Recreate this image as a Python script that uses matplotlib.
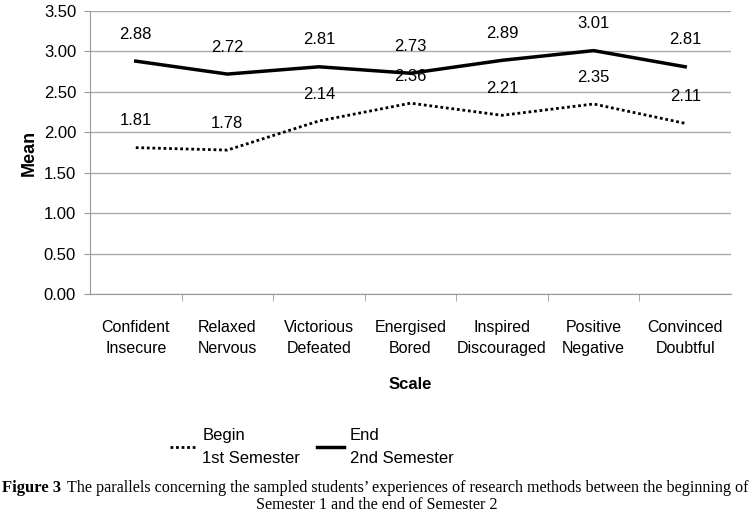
import matplotlib.pyplot as plt
from matplotlib.lines import Line2D

categories = ['Confident\nInsecure', 'Relaxed\nNervous', 'Victorious\nDefeated',
              'Energised\nBored', 'Inspired\nDiscouraged', 'Positive\nNegative',
              'Convinced\nDoubtful']
begin_vals = [1.81, 1.78, 2.14, 2.36, 2.21, 2.35, 2.11]
end_vals = [2.88, 2.72, 2.81, 2.73, 2.89, 3.01, 2.81]
y_ticks = [0.0, 0.5, 1.0, 1.5, 2.0, 2.5, 3.0, 3.5]

sans = ['Liberation Sans', 'DejaVu Sans']
serif = ['Liberation Serif', 'DejaVu Serif']

fig = plt.figure(figsize=(7.53, 5.23), dpi=100)
ax = fig.add_axes([90 / 753, 1 - 294 / 523, 641 / 753, 283 / 523])

x = list(range(len(categories)))
ax.plot(x, begin_vals, color='black', linestyle=(0, (1, 1)), linewidth=2)
ax.plot(x, end_vals, color='black', linestyle='-', linewidth=2.5)

for xi, v in zip(x, begin_vals):
    ax.annotate(f'{v:.2f}', (xi, v), xytext=(0, 14), textcoords='offset points',
                ha='center', va='bottom', fontsize=12, family=sans)
for xi, v in zip(x, end_vals):
    ax.annotate(f'{v:.2f}', (xi, v), xytext=(0, 14), textcoords='offset points',
                ha='center', va='bottom', fontsize=12, family=sans)

ax.set_xlim(-0.5, len(categories) - 0.5)
ax.set_ylim(0, 3.5)
ax.set_yticks(y_ticks)
ax.set_yticklabels([f'{t:.2f}' for t in y_ticks], family=sans, fontsize=12)
ax.set_xticks(x)
ax.set_xticklabels(categories, family=sans, fontsize=11.5, linespacing=1.5)
ax.set_xticks([i - 0.5 for i in range(1, len(categories))], minor=True)
ax.tick_params(axis='x', which='major', length=0, pad=19)
ax.tick_params(axis='x', which='minor', length=5, color='#999999')
ax.tick_params(axis='y', length=4, color='#999999', pad=6)
ax.grid(axis='y', color='#aaaaaa', linewidth=1)
ax.set_axisbelow(True)
for s in ['top', 'right']:
    ax.spines[s].set_visible(False)
for s in ['left', 'bottom']:
    ax.spines[s].set_color('#999999')

ax.set_ylabel('Mean', family=sans, fontsize=13, fontweight='bold', labelpad=4)
ax.set_xlabel('Scale', family=sans, fontsize=12, fontweight='bold', labelpad=15)

handles = [Line2D([], [], color='black', linestyle=(0, (1, 1)), linewidth=2),
           Line2D([], [], color='black', linewidth=2.5)]
leg = fig.legend(handles, ['Begin\n1st Semester', 'End\n2nd Semester'],
                 loc='center left', bbox_to_anchor=(155 / 753, 1 - 447 / 523), ncol=2,
                 frameon=False, prop={'family': sans, 'size': 12}, handlelength=1.6,
                 handletextpad=0.35, columnspacing=1.0)
for t in leg.get_texts():
    t.set_linespacing(1.6)

fig.text(2 / 753, 1 - 488 / 523, 'Figure 3', ha='left', va='center',
         family=serif, fontsize=12, fontweight='bold')
fig.text(67 / 753, 1 - 488 / 523,
         'The parallels concerning the sampled students\u2019 experiences of research methods between the beginning of',
         ha='left', va='center', family=serif, fontsize=11.6)
fig.text(0.5, 1 - 505 / 523, 'Semester 1 and the end of Semester 2',
         ha='center', va='center', family=serif, fontsize=11.6)

fig.savefig('out.png', dpi=100)
